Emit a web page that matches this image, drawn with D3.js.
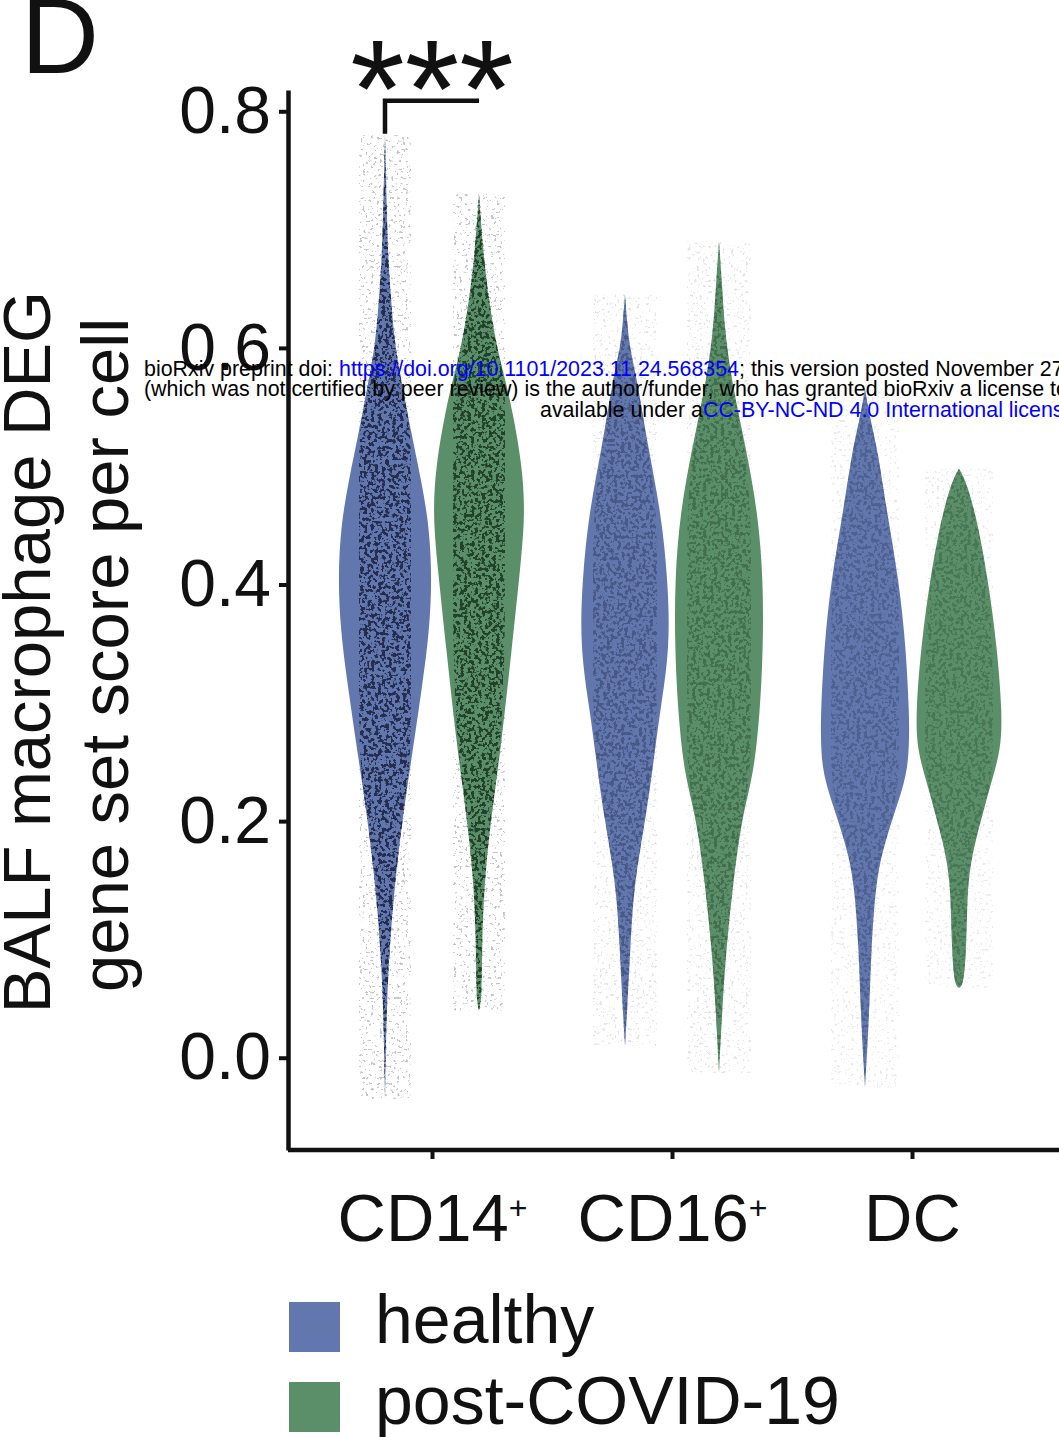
<!DOCTYPE html>
<html>
<head>
<meta charset="utf-8">
<script src="https://cdn.jsdelivr.net/npm/d3@7"></script>
<style>
body { margin: 0; background: #fff; }
svg { display: block; font-family: "Liberation Sans", Arial, Helvetica, sans-serif; }
</style>
</head>
<body>
<svg id="chart"></svg>
<script>
// categories, groups, ticks
var categories = ['CD14+', 'CD16+', 'DC']
var groups = ['healthy', 'post-COVID-19']
var yTicks = [0.0, 0.2, 0.4, 0.6, 0.8]

// violin profiles: [score, relative density]
var cd14Healthy = [[-0.035,0],[0.035,0.03],[0.091,0.09],[0.148,0.21],[0.204,0.38],[0.249,0.55],[0.319,0.81],[0.36,0.94],[0.404,1.0],[0.45,0.94],[0.488,0.77],[0.53,0.55],[0.556,0.43],[0.6,0.21],[0.64,0.13],[0.68,0.06],[0.73,0.03],[0.78,0]]
var cd14Post = [[0.04,0],[0.05,0.06],[0.091,0.06],[0.148,0.11],[0.204,0.26],[0.263,0.47],[0.347,0.70],[0.418,0.89],[0.46,0.98],[0.5,0.92],[0.545,0.72],[0.573,0.56],[0.6,0.38],[0.64,0.21],[0.68,0.09],[0.73,0]]
var cd16Healthy = [[0.01,0],[0.035,0.04],[0.091,0.11],[0.148,0.19],[0.204,0.45],[0.26,0.64],[0.291,0.74],[0.347,0.96],[0.404,0.91],[0.46,0.77],[0.516,0.49],[0.573,0.26],[0.6,0.1],[0.62,0.05],[0.645,0]]
var cd16Post = [[-0.013,0],[0.035,0.06],[0.091,0.15],[0.148,0.30],[0.204,0.49],[0.24,0.74],[0.291,0.87],[0.347,0.94],[0.404,0.94],[0.46,0.83],[0.516,0.57],[0.573,0.26],[0.62,0.11],[0.657,0.06],[0.69,0]]
var dcHealthy = [[-0.025,0],[0.035,0.09],[0.091,0.13],[0.148,0.23],[0.176,0.38],[0.204,0.60],[0.24,0.91],[0.27,0.94],[0.291,0.94],[0.347,0.87],[0.404,0.72],[0.46,0.47],[0.516,0.26],[0.54,0.11],[0.565,0]]
var dcPost = [[0.059,0],[0.062,0.10],[0.091,0.15],[0.119,0.17],[0.148,0.19],[0.176,0.30],[0.204,0.49],[0.232,0.68],[0.26,0.89],[0.291,0.92],[0.347,0.81],[0.404,0.62],[0.46,0.36],[0.49,0.12],[0.498,0]]

// significance bracket: category, top, left leg end, label
var sigCategory = 'CD14+'
var sigLevels = [0.809, 0.781]
var sigLabel = '***'

var violins = [
	{cat:'CD14+', group:'healthy', profile:cd14Healthy},
	{cat:'CD14+', group:'post-COVID-19', profile:cd14Post},
	{cat:'CD16+', group:'healthy', profile:cd16Healthy},
	{cat:'CD16+', group:'post-COVID-19', profile:cd16Post},
	{cat:'DC', group:'healthy', profile:dcHealthy},
	{cat:'DC', group:'post-COVID-19', profile:dcPost}
]

// styles
var fill = {'healthy':'#6177ae', 'post-COVID-19':'#5a8f69'}
var dotRgb = {'healthy':[0.13,0.16,0.29], 'post-COVID-19':[0.12,0.24,0.15]}
var dotStrength = {'CD14+':0.95, 'CD16+':0.38, 'DC':0.28}
var strayStrength = {'CD14+':0.4, 'CD16+':0.18, 'DC':0.14}
var jitter = {'CD14+':26, 'CD16+':32, 'DC':34}

var W = 1059, H = 1437
var svg = d3.select('#chart').attr('width', W).attr('height', H)
svg.append('rect').attr('width', W).attr('height', H).attr('fill', '#fff')

var y = d3.scaleLinear().domain([-0.078, 0.818]).range([1150, 90])
var x = d3.scalePoint().domain(categories).range([288, 1056]).padding(0.6)
var dodge = d3.scalePoint().domain(groups).range([-47, 47])
var halfWidth = d3.scaleLinear().domain([0, 1]).range([0, 47])

var defs = svg.append('defs')
var speckle = function(id, rgb, freq, gain, offset, seed) {
	var f = defs.append('filter').attr('id', id)
		.attr('x', 0).attr('y', 0).attr('width', 1).attr('height', 1)
		.attr('color-interpolation-filters', 'sRGB')
	f.append('feTurbulence').attr('type', 'fractalNoise').attr('baseFrequency', freq)
		.attr('numOctaves', 2).attr('seed', seed).attr('result', 'noise')
	f.append('feColorMatrix').attr('in', 'noise').attr('type', 'matrix')
		.attr('values', '0 0 0 0 ' + rgb[0] + ' 0 0 0 0 ' + rgb[1] + ' 0 0 0 0 ' + rgb[2] + ' ' + gain + ' 0 0 0 ' + offset)
	f.append('feGaussianBlur').attr('stdDeviation', 0.6).attr('result', 'dots')
	f.append('feComposite').attr('in', 'dots').attr('in2', 'SourceAlpha').attr('operator', 'in')
}
groups.forEach(function(g, i) {
	speckle('dots' + i, dotRgb[g], 0.28, 16, -8.1, 3 + i)
})
speckle('stray', [0.42, 0.44, 0.5], 0.35, 16, -10.2, 11)

var violinArea = function(cx, cap) {
	return d3.area()
		.curve(d3.curveBasis)
		.y(function(d) { return y(d[0]) })
		.x0(function(d) { return cx - Math.min(halfWidth(d[1]), cap) })
		.x1(function(d) { return cx + Math.min(halfWidth(d[1]), cap) })
}

var plot = svg.append('g')
violins.forEach(function(v) {
	var cx = x(v.cat) + dodge(v.group)
	var pts = v.profile.slice().reverse()
	var gi = groups.indexOf(v.group)
	var lo = pts[pts.length - 1][0], hi = pts[0][0]
	var jw = jitter[v.cat]

	plot.append('rect')
		.attr('x', cx - jw).attr('width', jw * 2)
		.attr('y', y(hi)).attr('height', y(lo) - y(hi))
		.attr('fill', '#000')
		.attr('filter', 'url(#stray)')
		.attr('opacity', strayStrength[v.cat])

	plot.append('path')
		.attr('d', violinArea(cx, Infinity)(pts))
		.attr('fill', fill[v.group])

	plot.append('path')
		.attr('d', violinArea(cx, jw)(pts))
		.attr('fill', '#000')
		.attr('filter', 'url(#dots' + gi + ')')
		.attr('opacity', dotStrength[v.cat])
})

// axes
var fontSize = 66
var yAxis = svg.append('g').attr('transform', 'translate(288,0)')
	.call(d3.axisLeft(y).tickValues(yTicks).tickFormat(d3.format('.1f')).tickSize(9).tickSizeOuter(0).tickPadding(8))
yAxis.select('.domain').attr('stroke', '#111').attr('stroke-width', 4.5)
yAxis.selectAll('.tick line').attr('stroke', '#111').attr('stroke-width', 4)
yAxis.selectAll('.tick text').attr('font-size', fontSize).attr('fill', '#111')
	.attr('font-family', '"Liberation Sans", Arial, sans-serif')

var xAxis = svg.append('g').attr('transform', 'translate(0,1150)')
	.call(d3.axisBottom(x).tickSize(9).tickSizeOuter(0).tickFormat(''))
xAxis.select('.domain').attr('stroke', '#111').attr('stroke-width', 4.5)
	.attr('d', 'M288,0H1059')
xAxis.selectAll('.tick line').attr('stroke', '#111').attr('stroke-width', 4)
xAxis.selectAll('.tick text').remove()
xAxis.selectAll('.tick').each(function(d) {
	var t = d3.select(this).append('text')
		.attr('y', 91).attr('text-anchor', 'middle')
		.attr('font-size', 67).attr('fill', '#111')
	var plus = d.slice(-1) == '+'
	t.append('tspan').text(plus ? d.slice(0, -1) : d)
	if(plus) t.append('tspan').text('+').attr('font-size', 32).attr('dy', -22)
})

// y title
var yTitle = [['BALF macrophage DEG', 50, 652], ['gene set score per cell', 128, 655]]
yTitle.forEach(function(t) {
	svg.append('text')
		.attr('transform', 'translate(' + t[1] + ',' + t[2] + ') rotate(-90)')
		.attr('text-anchor', 'middle')
		.attr('font-size', 67).attr('fill', '#111')
		.text(t[0])
})

// significance bracket
var bx0 = x(sigCategory) + dodge(groups[0])
var bx1 = x(sigCategory) + dodge(groups[1])
svg.append('path')
	.attr('d', 'M' + bx0 + ',' + y(sigLevels[1]) + 'V' + y(sigLevels[0]) + 'H' + bx1)
	.attr('fill', 'none').attr('stroke', '#111').attr('stroke-width', 4.5)
svg.append('text')
	.attr('x', x(sigCategory)).attr('y', 137)
	.attr('text-anchor', 'middle')
	.attr('font-size', 140).attr('fill', '#111')
	.text(sigLabel)

// panel letter
svg.append('text').attr('x', 21).attr('y', 73).attr('font-size', 108).attr('fill', '#111').text('D')

// legend
var legend = svg.append('g')
groups.forEach(function(g, i) {
	legend.append('rect').attr('x', 289).attr('y', 1302 + i * 80).attr('width', 51).attr('height', 50).attr('fill', fill[g])
	legend.append('text').attr('x', 375).attr('y', 1343 + i * 81).attr('font-size', 68).attr('fill', '#111').text(g)
})

// bioRxiv watermark
var wm = svg.append('g').attr('font-size', 21.4).attr('font-family', 'Arial, "Liberation Sans", sans-serif')
var l1 = wm.append('text').attr('x', 144).attr('y', 376)
l1.append('tspan').text('bioRxiv preprint doi: ')
l1.append('tspan').attr('fill', '#0000ff').text('https://doi.org/10.1101/2023.11.24.568354')
l1.append('tspan').text('; this version posted November 27, 2023. The copyright holder for this preprint')
wm.append('text').attr('x', 144).attr('y', 396)
	.text('(which was not certified by peer review) is the author/funder, who has granted bioRxiv a license to display the preprint in perpetuity. It is made')
var l3 = wm.append('text').attr('x', 540).attr('y', 417)
l3.append('tspan').text('available under a')
l3.append('tspan').attr('fill', '#0000ff').text('CC-BY-NC-ND 4.0 International license')
l3.append('tspan').text('.')
</script>
</body>
</html>
